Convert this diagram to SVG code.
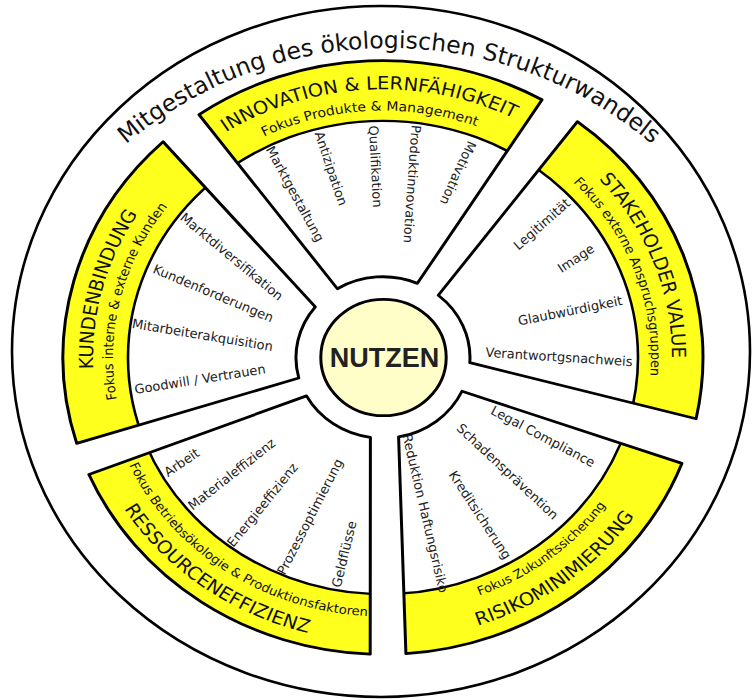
<svg xmlns="http://www.w3.org/2000/svg" xmlns:xlink="http://www.w3.org/1999/xlink" width="753" height="700" viewBox="0 0 753 700">
<style>
.seg{fill:#fff;stroke:none}
.band{fill:#FFFF1E;fill-rule:evenodd}
.ol{fill:none;stroke:#000;stroke-width:3;stroke-linejoin:round}
.yl{fill:none;stroke:#000;stroke-width:2.6}
.ttl{font-family:"DejaVu Sans",sans-serif;font-size:19.5px;fill:#111}
.fok{font-family:"DejaVu Sans",sans-serif;fill:#111}
.rad{font-family:"DejaVu Sans",sans-serif;font-size:13px;fill:#222;text-anchor:middle;dominant-baseline:central}
</style>
<defs>
<path id="pInnov" d="M -45.6 -74.1 L -184 -261.8 A 320 320 0 0 1 159 -277.7 L 34.4 -79.9 A 87 87 0 0 0 -45.6 -74.1 Z"/>
<path id="pStake" d="M 55.3 -67.1 L 194.4 -254.2 A 320 320 0 0 1 313.1 66 L 86.8 5.6 A 87 87 0 0 0 55.3 -67.1 Z"/>
<path id="pRisk" d="M 79 36.4 L 298.9 114.1 A 320 320 0 0 1 22.9 319.2 L 15.6 85.6 A 87 87 0 0 0 79 36.4 Z"/>
<path id="pRess" d="M -12.6 86.1 L -12.8 319.7 A 320 320 0 0 1 -294.1 126 L -76.5 41.4 A 87 87 0 0 0 -12.6 86.1 Z"/>
<path id="pKund" d="M -84.2 22.1 L -306.3 92.5 A 320 320 0 0 1 -219.9 -232.5 L -67.7 -54.6 A 87 87 0 0 0 -84.2 22.1 Z"/>
<path id="ring" d="M0,-320 A320,320 0 1,1 0,320 A320,320 0 1,1 0,-320 Z M0,-255 A255,255 0 1,0 0,255 A255,255 0 1,0 0,-255 Z"/>
<clipPath id="cInnov"><use xlink:href="#pInnov"/></clipPath>
<clipPath id="cStake"><use xlink:href="#pStake"/></clipPath>
<clipPath id="cRisk"><use xlink:href="#pRisk"/></clipPath>
<clipPath id="cRess"><use xlink:href="#pRess"/></clipPath>
<clipPath id="cKund"><use xlink:href="#pKund"/></clipPath>
<path id="tOuter" d="M 36.1 251.75 A 407.5 407.5 0 0 1 741.9 251.75"/>
<path id="tInnovT" d="M -276.4 -84.5 A 289 289 0 0 1 266 -112.9"/>
<path id="tInnovF" d="M -254.4 -77.8 A 266 266 0 0 1 244.9 -103.9"/>
<path id="tStakeT" d="M -4 -289 A 289 289 0 0 1 188.8 218.8"/>
<path id="tStakeF" d="M -1.4 -268 A 268 268 0 0 1 173.3 204.4"/>
<path id="tRiskT" d="M -165.6 255 A 304 304 0 0 0 290.7 -88.9"/>
<path id="tRiskF" d="M -147.2 231.1 A 274 274 0 0 0 261.3 -82.4"/>
<path id="tRessT" d="M -294.2 -84.3 A 306 306 0 0 0 171.1 253.7"/>
<path id="tRessF" d="M -270.4 -68.9 A 279 279 0 0 0 162.8 226.6"/>
<path id="tKundT" d="M -166 237.8 A 290 290 0 0 1 -25.8 -288.8"/>
<path id="tKundF" d="M -149.8 224.6 A 270 270 0 0 1 -29.6 -268.4"/>
</defs>
<rect width="753" height="700" fill="#fff"/>
<g id="frame">
<ellipse cx="381" cy="351.5" rx="369" ry="345.5" fill="#fff" stroke="#000" stroke-width="2.6"/>
<text class="ttl" style="font-size:23.5px" text-anchor="middle"><textPath xlink:href="#tOuter" startOffset="50%">Mitgestaltung des ökologischen Strukturwandels</textPath></text>
</g>
<g transform="translate(383,357.5) scale(1,0.928)">
<g id="innovation">
<use xlink:href="#pInnov" class="seg"/>
<use xlink:href="#ring" class="band" clip-path="url(#cInnov)"/>
<circle r="255" class="yl" clip-path="url(#cInnov)"/>
<use xlink:href="#pInnov" class="ol"/>
<text class="ttl" text-anchor="middle"><textPath xlink:href="#tInnovT" startOffset="50%">INNOVATION &amp; LERNFÄHIGKEIT</textPath></text>
<text class="fok" style="font-size:14px" text-anchor="middle"><textPath xlink:href="#tInnovF" startOffset="50%">Fokus Produkte &amp; Management</textPath></text>
</g>
<g id="stakeholder">
<use xlink:href="#pStake" class="seg"/>
<use xlink:href="#ring" class="band" clip-path="url(#cStake)"/>
<circle r="255" class="yl" clip-path="url(#cStake)"/>
<use xlink:href="#pStake" class="ol"/>
<text class="ttl" text-anchor="middle"><textPath xlink:href="#tStakeT" startOffset="50%">STAKEHOLDER VALUE</textPath></text>
<text class="fok" style="font-size:13.7px" text-anchor="middle"><textPath xlink:href="#tStakeF" startOffset="50%">Fokus externe Anspruchsgruppen</textPath></text>
</g>
<g id="risiko">
<use xlink:href="#pRisk" class="seg"/>
<use xlink:href="#ring" class="band" clip-path="url(#cRisk)"/>
<circle r="255" class="yl" clip-path="url(#cRisk)"/>
<use xlink:href="#pRisk" class="ol"/>
<text class="ttl" text-anchor="middle"><textPath xlink:href="#tRiskT" startOffset="50%">RISIKOMINIMIERUNG</textPath></text>
<text class="fok" style="font-size:13px" text-anchor="middle"><textPath xlink:href="#tRiskF" startOffset="50%">Fokus Zukunftssicherung</textPath></text>
</g>
<g id="ressourcen">
<use xlink:href="#pRess" class="seg"/>
<use xlink:href="#ring" class="band" clip-path="url(#cRess)"/>
<circle r="255" class="yl" clip-path="url(#cRess)"/>
<use xlink:href="#pRess" class="ol"/>
<text class="ttl" text-anchor="middle"><textPath xlink:href="#tRessT" startOffset="50%">RESSOURCENEFFIZIENZ</textPath></text>
<text class="fok" style="font-size:13.2px" text-anchor="middle"><textPath xlink:href="#tRessF" startOffset="50%">Fokus Betriebsökologie &amp; Produktionsfaktoren</textPath></text>
</g>
<g id="kunden">
<use xlink:href="#pKund" class="seg"/>
<use xlink:href="#ring" class="band" clip-path="url(#cKund)"/>
<circle r="255" class="yl" clip-path="url(#cKund)"/>
<use xlink:href="#pKund" class="ol"/>
<text class="ttl" text-anchor="middle"><textPath xlink:href="#tKundT" startOffset="50%">KUNDENBINDUNG</textPath></text>
<text class="fok" style="font-size:13.7px" text-anchor="middle"><textPath xlink:href="#tKundF" startOffset="50%">Fokus interne &amp; externe Kunden</textPath></text>
</g>
<g id="nutzen">
<circle cx="0.5" cy="0" r="62.7" fill="#FFFDC8" stroke="#000" stroke-width="3"/>
</g>
</g>
<text x="384.5" y="358.3" font-family="'Liberation Sans',Arial,sans-serif" font-weight="bold" font-size="27" fill="#222" text-anchor="middle" dominant-baseline="central">NUTZEN</text>
<g id="innovation-items">
<text class="rad" transform="translate(295,194) rotate(61.4)">Marktgestaltung</text>
<text class="rad" transform="translate(331,168.5) rotate(71.5)">Antizipation</text>
<text class="rad" transform="translate(375.5,166.5) rotate(87)">Qualifikation</text>
<text class="rad" transform="translate(412,184) rotate(94)">Produktinnovation</text>
<text class="rad" transform="translate(458,173) rotate(114.7)">Motivation</text>
</g>
<g id="stakeholder-items">
<text class="rad" transform="translate(541.8,224.2) rotate(-41.3)">Legitimität</text>
<text class="rad" transform="translate(576,258.3) rotate(-33.7)">Image</text>
<text class="rad" transform="translate(570.2,310.8) rotate(-11.3)">Glaubwürdigkeit</text>
<text class="rad" transform="translate(559,357) rotate(3.7)">Verantwortgsnachweis</text>
</g>
<g id="risiko-items">
<text class="rad" transform="translate(543,436.5) rotate(27.9)">Legal Compliance</text>
<text class="rad" transform="translate(507.5,471.5) rotate(43.1)">Schadensprävention</text>
<text class="rad" transform="translate(480,515) rotate(56.9)">Kreditsicherung</text>
<text class="rad" transform="translate(425.2,513.3) rotate(76.9)">Reduktion Haftungsrisiko</text>
</g>
<g id="ressourcen-items">
<text class="rad" transform="translate(181.7,462.5) rotate(-34.3)">Arbeit</text>
<text class="rad" transform="translate(231.7,474.2) rotate(-38.2)">Materialeffizienz</text>
<text class="rad" transform="translate(262.5,505) rotate(-50.9)">Energieeffizienz</text>
<text class="rad" transform="translate(310,516.7) rotate(-62.8)">Prozessoptimierung</text>
<text class="rad" transform="translate(344.2,554.2) rotate(-76.3)">Geldflüsse</text>
</g>
<g id="kunden-items">
<text class="rad" transform="translate(231.7,256.7) rotate(39.6)">Marktdiversifikation</text>
<text class="rad" transform="translate(213.3,293.3) rotate(22.8)">Kundenforderungen</text>
<text class="rad" transform="translate(202.5,335) rotate(9.4)">Mitarbeiterakquisition</text>
<text class="rad" transform="translate(200,379.2) rotate(-9)">Goodwill / Vertrauen</text>
</g>
</svg>
